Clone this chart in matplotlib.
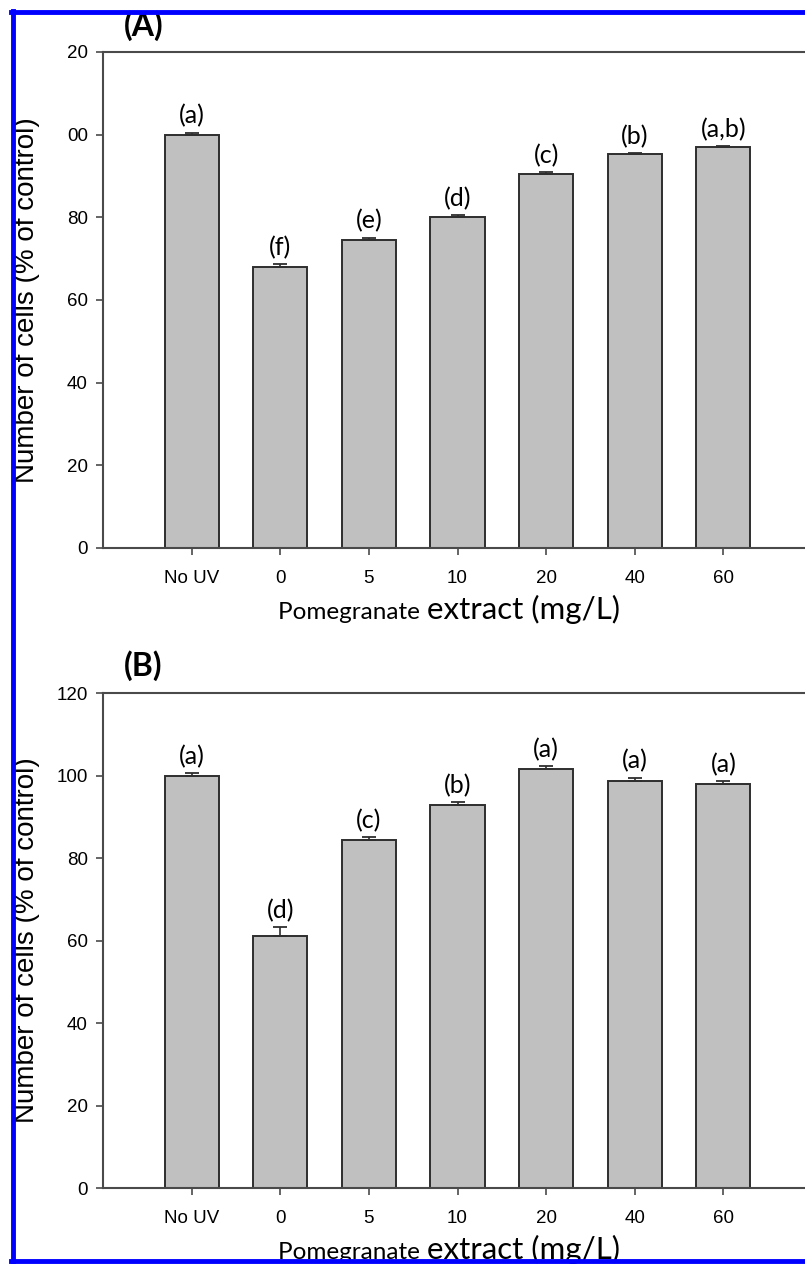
import matplotlib.pyplot as plt
from matplotlib.lines import Line2D

# === Data ===
categories = ["No UV", "0", "5", "10", "20", "40", "60"]

cells_a = [100.0, 68.0, 74.5, 80.1, 90.5, 95.2, 96.9]
err_a = [0.5, 0.7, 0.6, 0.5, 0.4, 0.3, 0.4]
letters_a = ["(a)", "(f)", "(e)", "(d)", "(c)", "(b)", "(a,b)"]

cells_b = [99.9, 61.1, 84.4, 92.9, 101.6, 98.7, 97.9]
err_b = [0.8, 2.2, 0.7, 0.6, 0.6, 0.8, 0.8]
letters_b = ["(a)", "(d)", "(c)", "(b)", "(a)", "(a)", "(a)"]

yticks = [0, 20, 40, 60, 80, 100, 120]
# panel A tick labels are cut on the left in the original
yticklabels_a = ["0", "20", "40", "60", "80", "00", "20"]
yticklabels_b = ["0", "20", "40", "60", "80", "100", "120"]

ARIAL = "Liberation Sans"
CALIBRI = "Lato"
SPINE = "#4a4a4a"

fig = plt.figure(figsize=(8.05, 12.64), dpi=100)

# blue frame: left, top and bottom only (right side is cut off)
for xs, ys in [([0.016, 0.016], [0.001, 0.9915]),
               ([0.014, 1.0], [0.9905, 0.9905]),
               ([0.014, 1.0], [0.0025, 0.0025])]:
    fig.lines.append(Line2D(xs, ys, transform=fig.transFigure,
                            color="#0000ff", linewidth=3.5))

ax_a = fig.add_axes([0.128, 0.5665, 0.8807, 0.3924])
ax_b = fig.add_axes([0.128, 0.0601, 0.8807, 0.3916])


def draw_panel(ax, vals, errs, letters, ylabels, tag, tag_y):
    x = range(len(categories))
    ax.bar(x, vals, width=0.61, color="#c0c0c0", edgecolor="#2e2e2e",
           linewidth=1.4, zorder=2)
    ax.errorbar(x, vals, yerr=[[0] * len(errs), errs], fmt="none",
                ecolor="#2e2e2e", elinewidth=1.2, capsize=5, capthick=1.3, zorder=3)
    for xi, v, e, lab in zip(x, vals, errs, letters):
        ax.annotate(lab, (xi, v + e), xytext=(0, 3.5), textcoords="offset points",
                    ha="center", va="bottom", fontsize=18, family=CALIBRI)

    ax.set_xlim(-1, 7)
    ax.set_ylim(0, 120)
    ax.set_xticks(list(x))
    ax.set_xticklabels(categories, family=ARIAL, fontsize=13.5)
    ax.set_yticks(yticks)
    ax.set_yticklabels(ylabels, family=ARIAL, fontsize=13.5)
    ax.tick_params(axis="both", direction="out", length=5, width=1.2, color=SPINE, pad=6)
    ax.tick_params(axis="x", pad=11)
    for side in ["left", "bottom", "top"]:
        ax.spines[side].set_color(SPINE)
        ax.spines[side].set_linewidth(1.5)
    ax.spines["right"].set_visible(False)

    ax.set_ylabel("Number of cells (% of control)", family=ARIAL, fontsize=20)
    ax.yaxis.set_label_coords(-0.089, 0.5)

    # x label in two sizes like the original
    ax.annotate("Pomegranate ", (2.65, 0), xytext=(0, -71), textcoords="offset pixels",
                ha="right", va="baseline", fontsize=17.5, family=CALIBRI)
    ax.annotate("extract (mg/L)", (2.65, 0), xytext=(0, -71), textcoords="offset pixels",
                ha="left", va="baseline", fontsize=22.5, family=CALIBRI)

    ax.text(0.03, tag_y, tag, transform=ax.transAxes, ha="left", va="center",
            fontsize=23, fontweight="bold", family=CALIBRI)


draw_panel(ax_a, cells_a, err_a, letters_a, yticklabels_a, "(A)", 1.054)
draw_panel(ax_b, cells_b, err_b, letters_b, yticklabels_b, "(B)", 1.056)

fig.savefig("out.png", dpi=100)
